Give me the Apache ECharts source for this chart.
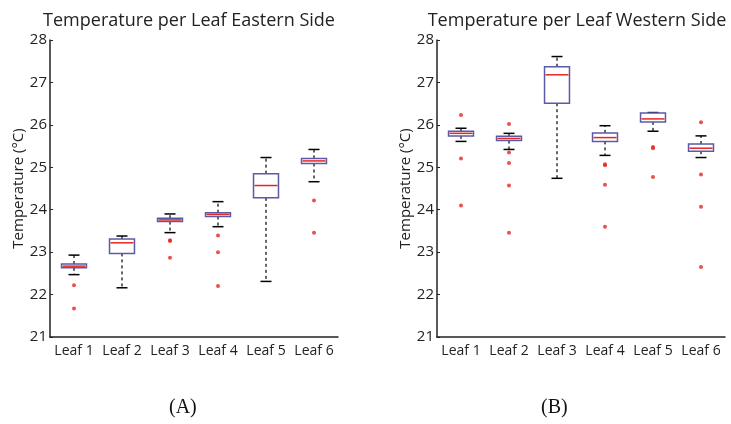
<!DOCTYPE html>
<html>
<head>
<meta charset="utf-8">
<script src="https://cdn.jsdelivr.net/npm/echarts@6/dist/echarts.min.js"></script>
<style>
  html, body { margin: 0; padding: 0; background: #fff; }
  #chart { width: 731px; height: 424px; }
</style>
</head>
<body>
<div id="chart"></div>
<script>
const leaves = ['Leaf 1', 'Leaf 2', 'Leaf 3', 'Leaf 4', 'Leaf 5', 'Leaf 6']
const yTicks = [21, 22, 23, 24, 25, 26, 27, 28]

// eastern side: lower whisker, q1, median, q3, upper whisker
const eastLow = [22.47, 22.16, 23.46, 23.60, 22.31, 24.66]
const eastQ1 = [22.63, 22.97, 23.72, 23.84, 24.28, 25.09]
const eastMed = [22.67, 23.22, 23.76, 23.89, 24.57, 25.15]
const eastQ3 = [22.72, 23.31, 23.80, 23.93, 24.85, 25.21]
const eastHigh = [22.93, 23.38, 23.90, 24.19, 25.23, 25.42]
const eastOutliers = [
  [0, 22.22], [0, 21.67],
  [2, 23.28], [2, 23.26], [2, 22.87],
  [3, 23.39], [3, 23.00], [3, 22.20],
  [5, 24.22], [5, 23.46]
]

// western side
const westLow = [25.61, 25.42, 24.74, 25.28, 25.85, 25.23]
const westQ1 = [25.74, 25.63, 26.51, 25.61, 26.07, 25.38]
const westMed = [25.80, 25.68, 27.18, 25.70, 26.14, 25.45]
const westQ3 = [25.85, 25.73, 27.37, 25.81, 26.28, 25.55]
const westHigh = [25.92, 25.80, 27.61, 25.98, 26.29, 25.74]
const westOutliers = [
  [0, 26.23], [0, 25.21], [0, 24.10],
  [1, 26.02], [1, 25.35], [1, 25.10], [1, 24.57], [1, 23.46],
  [3, 25.07], [3, 25.05], [3, 24.59], [3, 23.60],
  [4, 25.48], [4, 25.45], [4, 24.77],
  [5, 26.06], [5, 24.83], [5, 24.07], [5, 22.65]
]

const boxColor = '#5b5aa6'
const medianColor = '#e8241f'
const axisColor = '#222'
const textColor = '#222'

const boxRows = ( low, q1, med, q3, high ) => leaves.map( ( _, i ) => [i, low[i], q1[i], med[i], q3[i], high[i]] )

const renderBox = ( params, api ) => {
  const idx = api.value( 0 )
  const low = api.coord( [idx, api.value( 1 )] )
  const q1 = api.coord( [idx, api.value( 2 )] )
  const med = api.coord( [idx, api.value( 3 )] )
  const q3 = api.coord( [idx, api.value( 4 )] )
  const high = api.coord( [idx, api.value( 5 )] )
  const x = low[0]
  const bw = api.size( [1, 0] )[0] * 0.52
  const cw = 11
  const dash = { stroke : '#000', lineWidth : 1.2, lineDash : [3, 3] }
  const solid = { stroke : '#000', lineWidth : 1.5 }
  return {
    type : 'group',
    children : [
      { type : 'line', shape : { x1 : x, y1 : q3[1], x2 : x, y2 : high[1] }, style : dash },
      { type : 'line', shape : { x1 : x, y1 : q1[1], x2 : x, y2 : low[1] }, style : dash },
      { type : 'line', shape : { x1 : x - cw / 2, y1 : high[1], x2 : x + cw / 2, y2 : high[1] }, style : solid },
      { type : 'line', shape : { x1 : x - cw / 2, y1 : low[1], x2 : x + cw / 2, y2 : low[1] }, style : solid },
      {
        type : 'rect',
        shape : { x : x - bw / 2, y : q3[1], width : bw, height : q1[1] - q3[1] },
        style : { fill : '#fff', stroke : boxColor, lineWidth : 1.5 }
      },
      {
        type : 'line',
        shape : { x1 : x - bw / 2 + 1, y1 : med[1], x2 : x + bw / 2 - 1, y2 : med[1] },
        style : { stroke : medianColor, lineWidth : 1.5 }
      }
    ]
  }
}

const makeGrid = ( left, right ) => ( { left, right, top : 40, bottom : 87, containLabel : false } )

const makeX = gridIndex => ( {
  type : 'category',
  gridIndex,
  data : leaves,
  axisLine : { lineStyle : { color : axisColor, width : 1.5 } },
  axisTick : { show : false },
  axisLabel : { color : textColor, fontSize : 14, fontFamily : 'Open Sans', margin : 7, interval : 0 },
  splitLine : { show : false }
} )

const makeY = ( gridIndex, nameGap ) => ( {
  type : 'value',
  gridIndex,
  min : yTicks[0],
  max : yTicks[yTicks.length - 1],
  interval : 1,
  name : 'Temperature (°C)',
  nameLocation : 'middle',
  nameGap,
  nameTextStyle : { color : textColor, fontSize : 15, fontFamily : 'Open Sans' },
  axisLine : { show : true, lineStyle : { color : axisColor, width : 1.5 } },
  axisTick : { show : true, inside : true, length : 3, lineStyle : { color : axisColor } },
  axisLabel : { color : textColor, fontSize : 15, fontFamily : 'Open Sans', margin : 3 },
  splitLine : { show : false }
} )

const chart = echarts.init( document.getElementById( 'chart' ), null, { renderer : 'canvas' } )

chart.setOption( {
  animation : false,
  backgroundColor : '#fff',
  title : [
    {
      text : 'Temperature per Leaf Eastern Side',
      left : 184,
      top : 7,
      textAlign : 'center',
      textStyle : { fontSize : 18, fontWeight : 'normal', color : textColor, fontFamily : 'Open Sans' }
    },
    {
      text : 'Temperature per Leaf Western Side',
      left : 572,
      top : 7,
      textAlign : 'center',
      textStyle : { fontSize : 18, fontWeight : 'normal', color : textColor, fontFamily : 'Open Sans' }
    }
  ],
  grid : [makeGrid( 50, 393 ), makeGrid( 437, 6 )],
  xAxis : [makeX( 0 ), makeX( 1 )],
  yAxis : [makeY( 0, 18 ), makeY( 1, 20 )],
  graphic : [
    {
      type : 'text',
      left : 169,
      top : 398,
      style : { text : '(A)', fontSize : 20, fontFamily : 'Liberation Serif', fill : '#111' }
    },
    {
      type : 'text',
      left : 541,
      top : 398,
      style : { text : '(B)', fontSize : 20, fontFamily : 'Liberation Serif', fill : '#111' }
    }
  ],
  series : [
    {
      type : 'custom',
      xAxisIndex : 0,
      yAxisIndex : 0,
      renderItem : renderBox,
      encode : { x : 0, y : [1, 2, 3, 4, 5] },
      data : boxRows( eastLow, eastQ1, eastMed, eastQ3, eastHigh ),
      z : 2
    },
    {
      type : 'scatter',
      xAxisIndex : 0,
      yAxisIndex : 0,
      symbolSize : 4,
      itemStyle : { color : medianColor },
      data : eastOutliers,
      z : 3
    },
    {
      type : 'custom',
      xAxisIndex : 1,
      yAxisIndex : 1,
      renderItem : renderBox,
      encode : { x : 0, y : [1, 2, 3, 4, 5] },
      data : boxRows( westLow, westQ1, westMed, westQ3, westHigh ),
      z : 2
    },
    {
      type : 'scatter',
      xAxisIndex : 1,
      yAxisIndex : 1,
      symbolSize : 4,
      itemStyle : { color : medianColor },
      data : westOutliers,
      z : 3
    }
  ]
} )
</script>
</body>
</html>
